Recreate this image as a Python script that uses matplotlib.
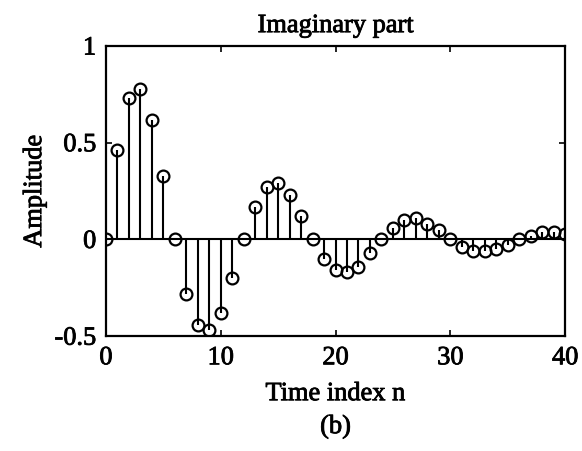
import matplotlib
matplotlib.use('Agg')
import matplotlib.pyplot as plt
import matplotlib.patheffects as pe

n = list(range(41))
imag = [0.0, 0.46, 0.73, 0.78, 0.62, 0.33, 0.0, -0.28, -0.44, -0.47,
        -0.38, -0.20, 0.0, 0.17, 0.27, 0.29, 0.23, 0.12, 0.0, -0.10,
        -0.16, -0.17, -0.14, -0.07, 0.0, 0.06, 0.10, 0.11, 0.08, 0.05,
        0.0, -0.04, -0.06, -0.06, -0.05, -0.03, 0.0, 0.02, 0.04, 0.04,
        0.03]
xticks = [0, 10, 20, 30, 40]
yticks = [-0.5, 0, 0.5, 1]
yticklabels = ['-0.5', '0', '0.5', '1']

plt.rcParams['font.family'] = ['Liberation Serif', 'DejaVu Serif']
plt.rcParams['font.size'] = 19

fig = plt.figure(figsize=(5.82, 4.52), dpi=100)
ax = fig.add_axes([0.182, 0.254, 0.789, 0.642])

markers, stems, base = ax.stem(n, imag, linefmt='k-', markerfmt='ko', basefmt='k-')
plt.setp(markers, markerfacecolor='none', markeredgecolor='k', markersize=8.5, markeredgewidth=1.6)
plt.setp(stems, linewidth=1.5)
plt.setp(base, linewidth=1.5)

ax.set_xlim(0, 40)
ax.set_ylim(-0.5, 1)
ax.set_xticks(xticks)
ax.set_yticks(yticks)
ax.set_yticklabels(yticklabels)
ax.tick_params(direction='in', length=4, width=1.2, top=True, right=True)
ax.tick_params(axis='x', pad=8)
ax.tick_params(axis='y', pad=7)
for s in ax.spines.values():
    s.set_linewidth(1.6)

# scanned text looks heavier than plain Times
heavy = [pe.withStroke(linewidth=0.6, foreground='k')]
ax.set_title('Imaginary part', fontsize=19, pad=10, path_effects=heavy)
ax.set_xlabel('Time index n', fontsize=19, labelpad=10, path_effects=heavy)
ax.set_ylabel('Amplitude', fontsize=19, labelpad=6, path_effects=heavy)
for lab in ax.get_xticklabels() + ax.get_yticklabels():
    lab.set_path_effects(heavy)
fig.text(0.5 * (0.182 + 0.971), 1 - 428 / 452, '(b)', ha='center', va='center',
         fontsize=19, path_effects=heavy)

fig.savefig('out.png', dpi=100)
